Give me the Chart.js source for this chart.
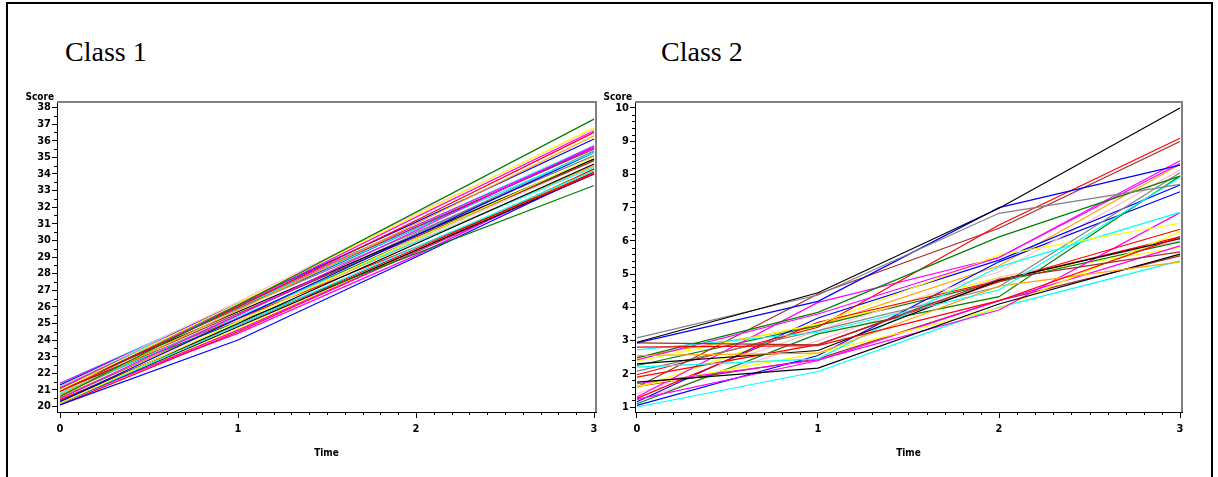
<!DOCTYPE html>
<html>
<head>
<meta charset="utf-8">
<title>Class 1 / Class 2 trajectories</title>
<script src="https://cdn.jsdelivr.net/npm/chart.js@4.4.1/dist/chart.umd.min.js"></script>
<style>
  html, body { margin: 0; padding: 0; background: #fff; overflow: hidden; }
  body { width: 1218px; height: 477px; position: relative; }
  .frame { position: absolute; left: 6px; top: 2px; width: 1203px; height: 490px; border: 2px solid #000; }
  .title { position: absolute; top: 36px; font: 28px 'Liberation Serif', 'Times New Roman', serif; color: #000; }
  canvas { position: absolute; top: 80px; }
</style>
</head>
<body>
<div class="frame"></div>
<div class="title" style="left:65px">Class 1</div>
<div class="title" style="left:661px">Class 2</div>
<canvas id="class1" width="610" height="397" style="left:0"></canvas>
<canvas id="class2" width="628" height="397" style="left:590px"></canvas>

<script>
// ── Data ──
const TIMES = [0, 1, 2, 3];
const CLASS1_Y_TICKS = [20, 21, 22, 23, 24, 25, 26, 27, 28, 29, 30, 31, 32, 33, 34, 35, 36, 37, 38];
const CLASS2_Y_TICKS = [1, 2, 3, 4, 5, 6, 7, 8, 9, 10];

// one row per subject: score at time 0, 1, 2, 3
const CLASS1_SCORES = [
  [20.6, 26.1, 31.7, 37.3],
  [21.0, 26.2, 31.5, 36.8],
  [21.2, 26.3, 31.6, 36.7],
  [21.1, 26.1, 31.4, 36.6],
  [20.9, 26.0, 31.2, 36.5],
  [20.7, 25.8, 31.0, 36.3],
  [21.3, 26.2, 31.1, 36.1],
  [20.5, 25.5, 30.6, 35.7],
  [21.4, 26.1, 30.9, 35.6],
  [21.3, 26.0, 30.7, 35.3],
  [20.3, 25.3, 30.3, 35.3],
  [21.2, 25.9, 30.5, 35.1],
  [20.2, 25.1, 30.1, 35.0],
  [21.1, 25.7, 30.3, 34.9],
  [20.9, 25.6, 30.2, 34.8],
  [20.3, 25.0, 29.8, 34.6],
  [20.8, 25.4, 29.9, 34.4],
  [20.2, 24.9, 29.6, 34.2],
  [20.4, 24.9, 29.5, 34.1],
  [21.0, 25.3, 29.6, 34.0],
  [21.0, 25.1, 29.2, 33.3],
  [20.1, 24.0, 29.0, 34.1],
  [20.4, 25.2, 30.0, 34.8],
  [20.6, 25.2, 29.9, 34.5],
  [20.5, 25.3, 30.1, 34.9],
  [20.2, 24.8, 29.4, 34.0],
  [20.2, 24.6, 29.3, 34.0],
  [20.3, 24.7, 29.3, 34.2],
  [20.1, 24.5, 29.3, 34.3],
  [21.2, 26.0, 30.8, 35.5],
  [21.1, 25.9, 30.7, 35.6],
  [20.7, 25.5, 30.4, 35.4],
  [20.4, 24.4, 29.1, 34.3],
  [20.3, 24.6, 29.4, 34.3],
  [21.4, 26.2, 30.9, 35.7]
];

const CLASS2_SCORES = [
  [2.95, 4.44, 6.98, 10.0],
  [3.08, 4.37, 6.83, 7.70],
  [2.93, 4.18, 7.00, 8.28],
  [2.93, 2.87, 4.85, 5.67],
  [2.80, 2.85, 4.20, 6.12],
  [2.72, 3.25, 4.52, 7.91],
  [2.55, 2.62, 4.64, 5.37],
  [2.48, 3.85, 6.12, 7.95],
  [2.42, 3.80, 5.50, 8.41],
  [2.38, 3.50, 5.57, 6.53],
  [2.30, 2.70, 4.82, 6.07],
  [1.75, 2.17, 4.10, 5.60],
  [2.20, 2.45, 5.22, 6.86],
  [2.08, 3.30, 4.62, 8.05],
  [1.97, 3.40, 6.48, 9.09],
  [1.90, 2.88, 4.77, 6.35],
  [1.70, 2.42, 3.92, 6.85],
  [1.62, 2.62, 3.97, 6.27],
  [1.60, 4.40, 6.38, 8.99],
  [1.30, 4.15, 5.50, 8.33],
  [1.26, 3.55, 4.80, 6.12],
  [1.23, 2.40, 4.20, 5.85],
  [1.16, 3.68, 5.42, 7.68],
  [1.10, 3.20, 4.32, 7.95],
  [1.40, 3.30, 5.07, 8.13],
  [1.00, 2.07, 4.00, 5.40],
  [1.05, 2.55, 5.37, 7.48],
  [2.25, 3.45, 4.77, 5.97],
  [2.50, 3.45, 5.25, 8.30],
  [1.62, 2.45, 4.20, 5.55],
  [1.20, 3.00, 4.90, 6.00],
  [1.57, 3.45, 4.90, 5.80]
];

// ── Styles ──
const SAS = {
  blue: '#0000ff', red: '#ff0000', green: '#008000', magenta: '#ff00ff', cyan: '#00ffff',
  yellow: '#ffff00', orange: '#ffa500', brown: '#a52a2a', gray: '#808080', black: '#000000', pink: '#ffc0cb'
};
const CLASS1_COLORS = [
  'green', 'yellow', 'pink', 'magenta', 'red', 'orange', 'blue', 'magenta', 'magenta', 'cyan',
  'blue', 'gray', 'yellow', 'black', 'brown', 'black', 'cyan', 'cyan', 'red', 'red',
  'green', 'blue', 'pink', 'orange', 'green', 'black', 'magenta', 'yellow', 'red', 'brown',
  'blue', 'gray', 'magenta', 'orange', 'cyan'
];
const CLASS2_COLORS = [
  'black', 'gray', 'blue', 'brown', 'red', 'cyan', 'orange', 'green', 'magenta', 'yellow',
  'black', 'black', 'cyan', 'gray', 'red', 'red', 'magenta', 'yellow', 'brown', 'magenta',
  'red', 'magenta', 'blue', 'green', 'pink', 'cyan', 'blue', 'green', 'orange', 'brown',
  'pink', 'yellow'
];

const AXIS_FONT = { family: "'Liberation Sans Narrow', 'DejaVu Sans Condensed', 'Liberation Sans', sans-serif", size: 11, weight: 'bold' };

// ── Plot box, minor ticks, axis labels ──
const sasFrame = {
  id: 'sasFrame',
  afterDraw(chart, args, opts) {
    const { ctx, chartArea: a, scales: { x, y } } = chart;
    ctx.save();
    ctx.strokeStyle = '#808080';
    ctx.lineWidth = 2;
    ctx.beginPath();
    ctx.moveTo(a.left, a.top);
    ctx.lineTo(a.right, a.top);
    ctx.lineTo(a.right, a.bottom);
    ctx.stroke();

    ctx.strokeStyle = '#000';
    ctx.lineWidth = 1;
    ctx.beginPath();
    for (let i = 0; i <= 30; i++) {
      if (i % 10 === 0) continue;
      const px = Math.round(x.getPixelForValue(i / 10)) + 0.5;
      ctx.moveTo(px, a.bottom);
      ctx.lineTo(px, a.bottom + 3);
    }
    const lo = opts.yTicks[0], hi = opts.yTicks[opts.yTicks.length - 1];
    for (let i = 0; i <= (hi - lo) * opts.yMinor; i++) {
      if (i % opts.yMinor === 0) continue;
      const py = Math.round(y.getPixelForValue(lo + i / opts.yMinor)) + 0.5;
      ctx.moveTo(a.left, py);
      ctx.lineTo(a.left - 3, py);
    }
    ctx.stroke();

    ctx.fillStyle = '#000';
    ctx.font = `bold 10px ${AXIS_FONT.family}`;
    ctx.textAlign = 'right';
    ctx.textBaseline = 'alphabetic';
    ctx.fillText('Score', a.left - 3, a.top - 2);
    ctx.textAlign = 'center';
    ctx.textBaseline = 'middle';
    ctx.fillText('Time', (a.left + a.right) / 2, a.bottom + 41);
    ctx.restore();
  }
};

function makeChart(id, scores, colors, yTicks, yMinor, yRange, xRange, pad, yWidth) {
  const datasets = scores.map((vals, i) => ({
    data: TIMES.map((t, k) => ({ x: t, y: vals[k] })),
    borderColor: SAS[colors[i]],
    borderWidth: 1.2,
    pointRadius: 0,
    fill: false,
    tension: 0
  }));

  return new Chart(document.getElementById(id), {
    type: 'line',
    data: { datasets },
    plugins: [sasFrame],
    options: {
      responsive: false,
      animation: false,
      events: [],
      layout: { padding: pad },
      plugins: {
        legend: { display: false },
        tooltip: { enabled: false },
        sasFrame: { yTicks, yMinor }
      },
      scales: {
        x: {
          type: 'linear',
          min: xRange[0],
          max: xRange[1],
          afterBuildTicks: s => { s.ticks = TIMES.map(v => ({ value: v })); },
          afterFit: s => { s.height = 65; },
          grid: { drawOnChartArea: false, tickLength: 6, color: '#000' },
          border: { color: '#000', width: 1 },
          ticks: { font: AXIS_FONT, color: '#000', padding: 5, maxRotation: 0, autoSkip: false }
        },
        y: {
          type: 'linear',
          min: yRange[0],
          max: yRange[1],
          afterBuildTicks: s => { s.ticks = yTicks.map(v => ({ value: v })); },
          afterFit: s => { s.width = yWidth; },
          grid: { drawOnChartArea: false, tickLength: 5, color: '#000' },
          border: { color: '#000', width: 1 },
          ticks: { font: AXIS_FONT, color: '#000', padding: 1, autoSkip: false }
        }
      }
    }
  });
}

window.addEventListener('DOMContentLoaded', () => {
  makeChart('class1', CLASS1_SCORES, CLASS1_COLORS, CLASS1_Y_TICKS, 2,
    [19.67, 38.33], [-0.017, 3.011], { left: 20, top: 22, right: 14, bottom: 0 }, 37);
  makeChart('class2', CLASS2_SCORES, CLASS2_COLORS, CLASS2_Y_TICKS, 5,
    [0.85, 10.18], [-0.011, 3.011], { left: 20, top: 22, right: 36, bottom: 0 }, 25);
});
</script>
</body>
</html>
